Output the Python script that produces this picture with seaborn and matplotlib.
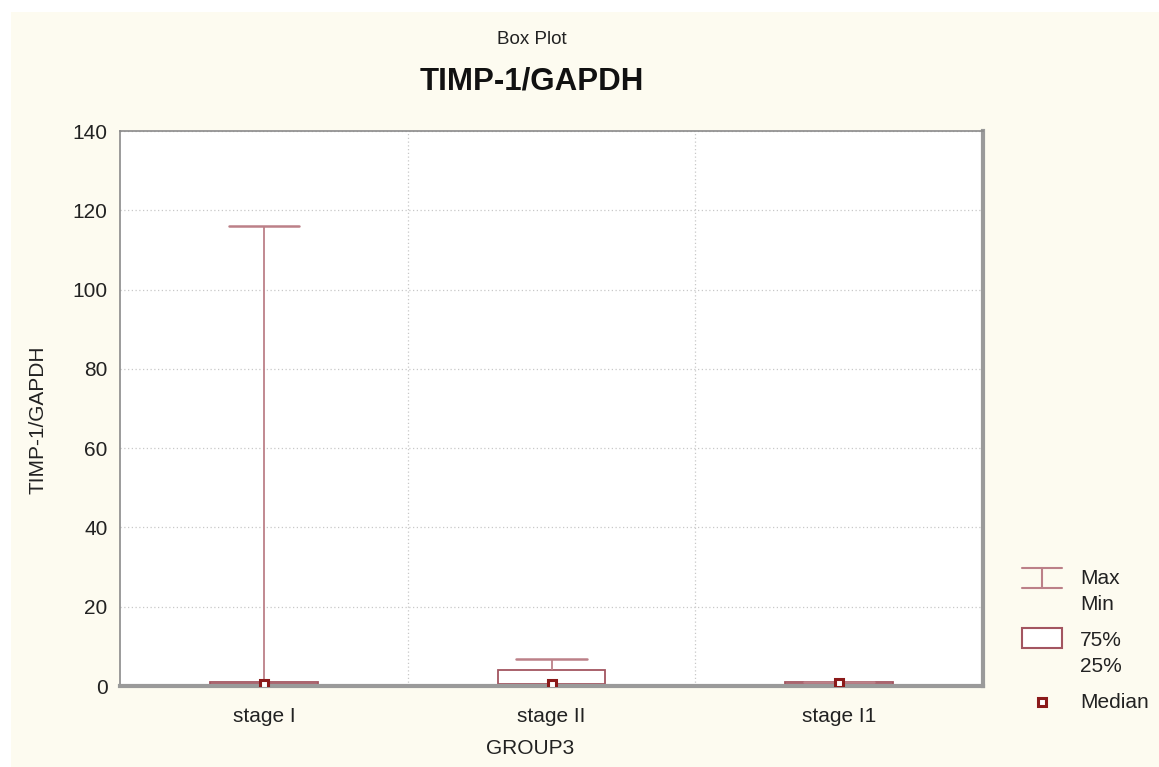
import matplotlib
matplotlib.use("Agg")
import matplotlib.pyplot as plt
from matplotlib.patches import Rectangle
from matplotlib.lines import Line2D
import seaborn as sns
import pandas as pd
import numpy as np

# ---- data ----
groups = ["stage I", "stage II", "stage I1"]
mins = [0.0, 0.1, 0.1]
q1s = [0.4, 0.4, 0.5]
medians = [0.5, 0.6, 0.7]
q3s = [1.0, 4.0, 1.0]
maxs = [116.0, 6.8, 1.1]
yticks = [0, 20, 40, 60, 80, 100, 120, 140]

rows = []
for g, a, b, c, d, e in zip(groups, mins, q1s, medians, q3s, maxs):
    for v in (a, b, c, d, e):
        rows.append({"GROUP3": g, "value": v})
df = pd.DataFrame(rows)

sns.set_theme(style="white")
plt.rcParams["font.family"] = ["Liberation Sans", "DejaVu Sans"]

W, H = 1159, 767
FS = 15
fig = plt.figure(figsize=(W / 100, H / 100), dpi=100)
fig.patch.set_facecolor("white")
fig.patches.append(Rectangle((11 / W, 0), 1 - 11 / W, 1 - 12 / H, transform=fig.transFigure,
                             facecolor="#FDFBF0", edgecolor="none", zorder=-10))

ax = fig.add_axes([120 / W, 1 - 686 / H, (983 - 120) / W, (686 - 131) / H])
ax.set_facecolor("white")

box_col = "#A35560"
whisk_col = "#BC8088"
med_col = "#8B1A1A"

sns.boxplot(data=df, x="GROUP3", y="value", order=groups, ax=ax,
            whis=(0, 100), width=0.375, color="white", linecolor=box_col,
            showfliers=False, linewidth=1.3,
            medianprops={"visible": False},
            whiskerprops={"color": whisk_col, "linewidth": 1.3},
            capprops={"color": whisk_col, "linewidth": 1.8},
            capwidths=0.245)

sns.pointplot(x=groups, y=medians, order=groups, ax=ax, errorbar=None,
              markers="s", linestyle="none", color=med_col,
              markersize=6, markerfacecolor="white", markeredgecolor=med_col,
              markeredgewidth=2.2, zorder=5)

ax.set_xlim(-0.5, 2.5)
ax.set_ylim(0, 140)
ax.set_yticks(yticks)
ax.set_yticklabels([str(t) for t in yticks], fontsize=FS, color="#222222")
ax.set_xticks(range(len(groups)))
ax.set_xticklabels(groups, fontsize=FS, color="#222222")
ax.set_xticks([0.5, 1.5], minor=True)
ax.tick_params(axis="x", which="both", length=0, pad=15)
ax.tick_params(axis="y", which="major", length=3, direction="in", color="#555555", pad=9)
ax.grid(False)
ax.yaxis.grid(True, which="major", linestyle=(0, (1, 2)), color="#C8C8C8", linewidth=0.9)
ax.xaxis.grid(True, which="minor", linestyle=(0, (1, 2)), color="#C8C8C8", linewidth=0.9)
ax.set_axisbelow(True)
ax.set_xlabel("")
ax.set_ylabel("")

for s in ("left", "top"):
    ax.spines[s].set_color("#8A8A8A")
    ax.spines[s].set_linewidth(1.2)
for s in ("right", "bottom"):
    ax.spines[s].set_color("#9A9A9A")
    ax.spines[s].set_linewidth(3)

fig.text(532 / W, 1 - 40 / H, "Box Plot", ha="center", va="center", fontsize=13.5, color="#222222")
fig.text(532 / W, 1 - 82 / H, "TIMP-1/GAPDH", ha="center", va="center", fontsize=22.5,
         fontweight="bold", color="#111111")
fig.text(530 / W, 1 - 748 / H, "GROUP3", ha="center", va="center", fontsize=FS, color="#222222")
fig.text(38 / W, 1 - 420 / H, "TIMP-1/GAPDH", ha="center", va="center", rotation=90,
         fontsize=FS, color="#222222")

# ---- legend ----
lx0, lx1, lxm = 1022 / W, 1062 / W, 1042 / W
def fy(py):
    return 1 - py / H
tf = fig.transFigure
fig.add_artist(Line2D([lx0, lx1], [fy(568), fy(568)], transform=tf, color=whisk_col, lw=1.5))
fig.add_artist(Line2D([lx0, lx1], [fy(588), fy(588)], transform=tf, color=whisk_col, lw=1.5))
fig.add_artist(Line2D([lxm, lxm], [fy(568), fy(588)], transform=tf, color=whisk_col, lw=1.5))
fig.text(1080 / W, fy(579), "Max", ha="left", va="center", fontsize=FS, color="#222222")
fig.text(1080 / W, fy(605), "Min", ha="left", va="center", fontsize=FS, color="#222222")
fig.add_artist(Rectangle((lx0, fy(648)), lx1 - lx0, (648 - 628) / H, transform=tf,
                         facecolor="white", edgecolor=box_col, lw=1.5))
fig.text(1080 / W, fy(640), "75%", ha="left", va="center", fontsize=FS, color="#222222")
fig.text(1080 / W, fy(666), "25%", ha="left", va="center", fontsize=FS, color="#222222")
fig.add_artist(Line2D([lxm], [fy(702)], transform=tf, marker="s", markersize=6,
                      markerfacecolor="white", markeredgecolor=med_col, markeredgewidth=2.2,
                      linestyle="none"))
fig.text(1080 / W, fy(702), "Median", ha="left", va="center", fontsize=FS, color="#222222")

fig.savefig("out.png", dpi=100, facecolor=fig.get_facecolor())
